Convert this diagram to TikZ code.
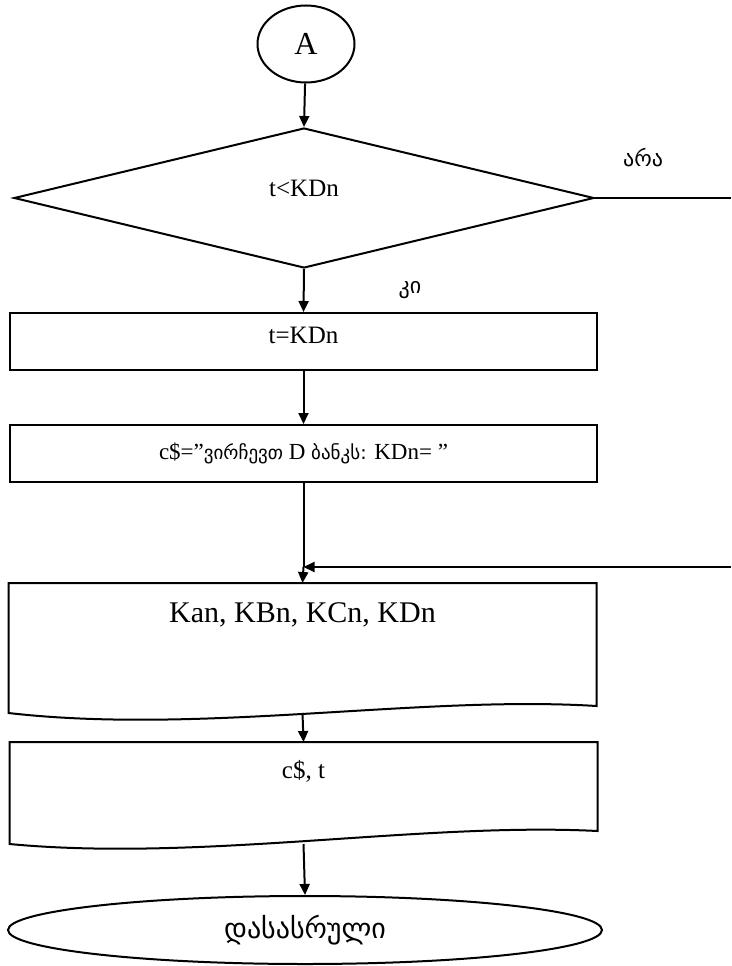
\documentclass[tikz,border=0pt]{standalone}
\usepackage{fontspec}
\setmainfont{Liberation Serif}
\newfontfamily\geo{DejaVu Sans}
\usetikzlibrary{shapes.geometric,arrows.meta}
\newcommand{\lift}[2]{\raisebox{#1}[0pt][0pt]{#2}}
\begin{document}
\begin{tikzpicture}[x=1pt,y=-1pt,line width=2pt,
  every node/.style={font=\fontsize{25}{28}\selectfont},
  arr/.style={-{Triangle[length=11pt,width=10pt]}},
  box/.style={draw,rectangle,minimum width=587pt,minimum height=57pt,inner sep=0pt},
  doc/.style={rectangle,minimum width=586pt,inner sep=0pt},
  lbl/.style={font=\geo\fontsize{22}{26}\selectfont}]
\useasboundingbox (0,0) rectangle (731,966);
\node[draw,ellipse,minimum width=97pt,minimum height=77pt,inner sep=0pt,font=\fontsize{32}{36}\selectfont] (A) at (306,44) {A};
\node[draw,diamond,minimum width=580pt,minimum height=140pt,inner sep=0pt] (d) at (304,198) {\lift{2pt}{t<KDn}};
\node[box] (r1) at (303.5,341.5) {\lift{-2pt}{t=KDn}};
\node[box,font=\fontsize{23}{26}\selectfont] (r2) at (303.5,453.5) {c\$=”{\geo\fontsize{19}{22}\selectfont ვირჩევთ} D {\geo\fontsize{19}{22}\selectfont ბანკს:} KDn= ”};
\node[doc,minimum height=128pt,font=\fontsize{30}{34}\selectfont] (r3) at (302.5,648) {\lift{26pt}{Kan, KBn, KCn, KDn}};
\node[doc,minimum height=100pt] (r4) at (303.5,793) {\lift{15pt}{c\$, t}};
\node[draw,ellipse,minimum width=594pt,minimum height=68pt,inner sep=0pt] (E) at (305,930) {\geo\fontsize{28}{32}\selectfont დასასრული};
\node[lbl] (nolbl) at (643,158) {არა};
\node[lbl] (yeslbl) at (410,290) {კი};
% document shapes
\draw (r3.north west) -- (r3.north east) -- ([yshift=7pt]r3.south east)
  .. controls (420,695) and (200,735) .. (r3.south west) -- cycle;
\draw (r4.north west) -- (r4.north east) -- ([yshift=13pt]r4.south east)
  .. controls (420,822) and (200,862) .. (r4.south west) -- cycle;
% connectors
\coordinate (no) at (731,198);
\coordinate (in) at (731,567);
\coordinate (j) at (r2.south |- in);
\draw[arr] (A) -- (d.north);
\draw (d.east) -- (no);
\draw[arr] (d.south) -- (r1.north);
\draw[arr] (r1.south) -- (r2.north);
\draw (r2.south) -- (j);
\draw[arr] (in) -- (j);
\draw[arr] (j) -- (r3.north);
\draw[arr] (r3.south) -- (r4.north);
\draw[arr] (r4.south) -- (E.north);
\end{tikzpicture}
\end{document}
